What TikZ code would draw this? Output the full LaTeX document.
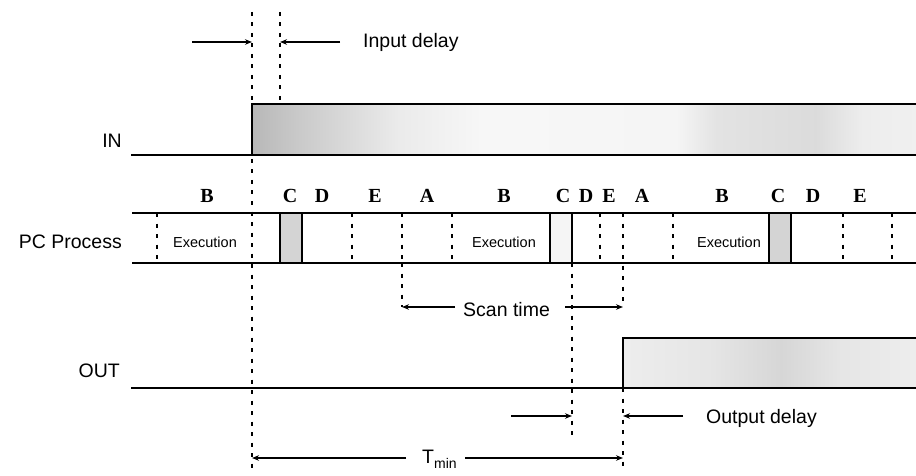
\documentclass[tikz,border=0pt]{standalone}
\usepackage{fontspec}
\setmainfont{Liberation Sans}
\newfontfamily\serifletters{Liberation Serif}
\usetikzlibrary{arrows.meta}
% stops mapped into the 25bp..75bp window used by \shade
\pgfdeclarehorizontalshading{inshade}{100bp}{color(0bp)=(black!28); color(25bp)=(black!28); color(28.5bp)=(black!21); color(36bp)=(black!8); color(42.5bp)=(black!3); color(57bp)=(black!4); color(60bp)=(black!11); color(67.5bp)=(black!14); color(71bp)=(black!7); color(75bp)=(black!6); color(100bp)=(black!6)}
\pgfdeclarehorizontalshading{outshade}{100bp}{color(0bp)=(black!7); color(25bp)=(black!7); color(40bp)=(black!10); color(52bp)=(black!16); color(62bp)=(black!10); color(75bp)=(black!7); color(100bp)=(black!7)}
\begin{document}
\begin{tikzpicture}[x=1pt,y=-1pt,
  sig/.style={line width=2.3pt, line cap=rect},
  band/.style={line width=2.1pt},
  cline/.style={line width=1.3pt},
  dline/.style={line width=1.1pt, dash pattern=on 4pt off 6.5pt},
  dim/.style={line width=1.7pt, -{Stealth[length=7pt,width=5.5pt]}},
  lbl/.style={font=\fontsize{19.5}{20}\selectfont, inner sep=0pt},
  letr/.style={font=\serifletters\bfseries\fontsize{20}{20}\selectfont, inner sep=0pt, anchor=base},
  exe/.style={font=\fontsize{14.5}{15}\selectfont, inner sep=0pt, anchor=base}]
\useasboundingbox (0,0) rectangle (916,476);

% ---------- shading ----------
\shade[shading=inshade] (252,104) rectangle (916,155);
\shade[shading=outshade] (623,338) rectangle (916,388);
\fill[black!17] (280,213) rectangle (302,263);
\fill[black!4] (550,213) rectangle (572,263);
\fill[black!17] (769,213) rectangle (791,263);

% ---------- coordinates ----------
\coordinate (d1t) at (252,12);  \coordinate (d1b) at (252,470);
\coordinate (d2t) at (280,12);  \coordinate (d2b) at (280,104);
\coordinate (d3t) at (402,263); \coordinate (d3b) at (402,307);
\coordinate (d4t) at (572,263); \coordinate (d4b) at (572,437);
\coordinate (d5t) at (623,213); \coordinate (d5b) at (623,307);
\coordinate (d6t) at (623,388); \coordinate (d6b) at (623,470);

% ---------- dashed lines ----------
\draw[dline] (d1t) -- (d1b);
\draw[dline] (d2t) -- (d2b);
\draw[dline] (d3t) -- (d3b);
\draw[dline] (d4t) -- (d4b);
\draw[dline] (d5t) -- (d5b);
\draw[dline] (d6t) -- (d6b);
\foreach \x in {157,352,402,452,600,673,843,892}{
  \draw[dline] (\x,213) -- (\x,263);
}

% ---------- IN signal ----------
\coordinate (inA) at (132,155); \coordinate (inB) at (252,155);
\coordinate (inC) at (252,104); \coordinate (inD) at (916,104);
\coordinate (inE) at (916,155);
\draw[sig] (inA) -- (inB) -- (inC) -- (inD);
\draw[sig] (inB) -- (inE);

% ---------- PC band ----------
\coordinate (pcA) at (132,213); \coordinate (pcB) at (916,213);
\coordinate (pcC) at (132,263); \coordinate (pcD) at (916,263);
\draw[band] (pcA) -- (pcB);
\draw[band] (pcC) -- (pcD);
\foreach \x in {280,302,550,572,769,791}{
  \draw[cline] (\x,213) -- (\x,263);
}

% ---------- OUT signal ----------
\coordinate (oA) at (132,388); \coordinate (oB) at (623,388);
\coordinate (oC) at (623,338); \coordinate (oD) at (916,338);
\coordinate (oE) at (916,388);
\draw[sig] (oA) -- (oB) -- (oC) -- (oD);
\draw[sig] (oB) -- (oE);

% ---------- labels ----------
\node[lbl, anchor=base west] (tin) at (363,48) {Input delay};
\node[lbl, anchor=base east] (lin) at (122,148) {IN};
\node[lbl, anchor=base east] (lpc) at (122,248) {PC Process};
\node[lbl, anchor=base east] (lout) at (120,377) {OUT};
\node[lbl, anchor=base west] (tscan) at (463,316) {Scan time};
\node[lbl, anchor=base west] (tout) at (706,423) {Output delay};
\node[lbl, anchor=base west] (tmin) at (422,463) {T\raisebox{-5pt}{\fontsize{14}{14}\selectfont min}};

\node[letr] (b1) at (207,203) {B};
\node[letr] (c1) at (290,203) {C};
\node[letr] (e1d) at (322,203) {D};
\node[letr] (e1) at (375,203) {E};
\node[letr] (a1) at (427,203) {A};
\node[letr] (b2) at (504,203) {B};
\node[letr] (c2) at (563,203) {C};
\node[letr] (e2d) at (586,203) {D};
\node[letr] (e2) at (609,203) {E};
\node[letr] (a2) at (642,203) {A};
\node[letr] (b3) at (722,203) {B};
\node[letr] (c3) at (778,203) {C};
\node[letr] (e3d) at (813,203) {D};
\node[letr] (e3) at (860,203) {E};

\node[exe] (x1) at (205,247) {Execution};
\node[exe] (x2) at (504,247) {Execution};
\node[exe] (x3) at (729,247) {Execution};

% ---------- dimension arrows ----------
\coordinate (ia1) at (192,42);  \coordinate (ia2) at (252,42);
\coordinate (ia3) at (340,42);  \coordinate (ia4) at (280,42);
\draw[dim] (ia1) -- (ia2);
\draw[dim] (ia3) -- (ia4);

\coordinate (sa1) at (455,307); \coordinate (sa2) at (402,307);
\coordinate (sa3) at (565,307); \coordinate (sa4) at (623,307);
\draw[dim] (sa1) -- (sa2);
\draw[dim] (sa3) -- (sa4);

\coordinate (oa1) at (511,416); \coordinate (oa2) at (572,416);
\coordinate (oa3) at (683,416); \coordinate (oa4) at (623,416);
\draw[dim] (oa1) -- (oa2);
\draw[dim] (oa3) -- (oa4);

\coordinate (ta1) at (406,458); \coordinate (ta2) at (252,458);
\coordinate (ta3) at (465,458); \coordinate (ta4) at (623,458);
\draw[dim] (ta1) -- (ta2);
\draw[dim] (ta3) -- (ta4);
\end{tikzpicture}
\end{document}
